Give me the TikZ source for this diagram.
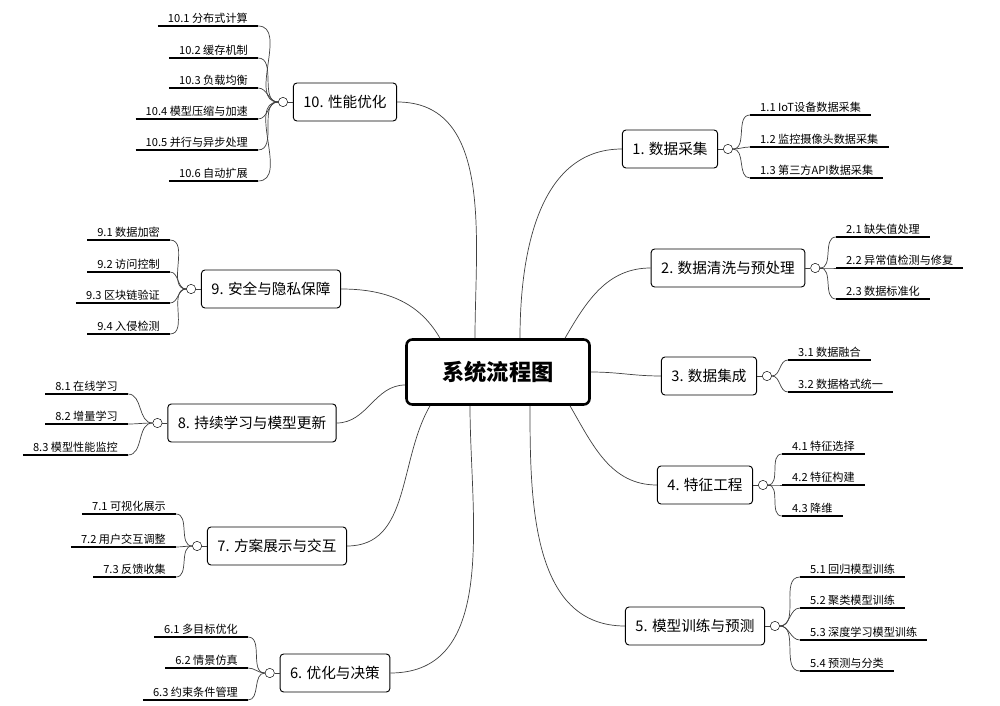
\documentclass[tikz,border=0pt]{standalone}
\usepackage{fontspec}
\setmainfont{Noto Sans CJK SC}
\usetikzlibrary{positioning,calc}

\tikzset{
  topic/.style={draw, thick, rounded corners=3pt, fill=white, minimum height=1.14cm, inner xsep=0.3cm, font=\fontsize{12.5}{14}\selectfont},
  root/.style={draw, line width=2.2pt, rounded corners=5pt, minimum width=5.49cm, minimum height=1.95cm, font=\fontsize{19}{22}\selectfont\bfseries},
  knob/.style={draw, circle, fill=white, minimum size=0.28cm, inner sep=0pt},
  subr/.style={anchor=south west, inner xsep=0.3cm, inner ysep=2pt, font=\fontsize{9.5}{11}\selectfont},
  subl/.style={anchor=south east, inner xsep=0.3cm, inner ysep=2pt, font=\fontsize{9.5}{11}\selectfont},
  uline/.style={line width=1.8pt},
  link/.style={draw=black!75, semithick}
}

\begin{document}
\begin{tikzpicture}[x=0.03cm, y=-0.03cm]
    \useasboundingbox (0,0) rectangle (1000,706);

    \node[root] at (498, 372) (c) {系统流程图};

    % main topics
    \node[topic] at (670, 149) (t1) {1. 数据采集};
    \node[topic] at (728, 268) (t2) {2. 数据清洗与预处理};
    \node[topic] at (709, 376) (t3) {3. 数据集成};
    \node[topic] at (705, 485) (t4) {4. 特征工程};
    \node[topic] at (695, 626) (t5) {5. 模型训练与预测};
    \node[topic] at (335, 673) (t6) {6. 优化与决策};
    \node[topic] at (277, 546) (t7) {7. 方案展示与交互};
    \node[topic] at (252, 423) (t8) {8. 持续学习与模型更新};
    \node[topic] at (271, 289) (t9) {9. 安全与隐私保障};
    \node[topic] at (345, 102) (t10) {10. 性能优化};

    \draw[link] ($(c.north)+(22,0)$) to[out=90, in=180] (t1.west);
    \draw[link] ($(c.north)+(67,0)$) to[out=60, in=180] (t2.west);
    \draw[link] (c.east) to[out=0, in=180] (t3.west);
    \draw[link] ($(c.south)+(72,0)$) to[out=-60, in=180] (t4.west);
    \draw[link] ($(c.south)+(32,0)$) to[out=-90, in=180] (t5.west);
    \draw[link] ($(c.south)+(-28,0)$) to[out=-90, in=0] (t6.east);
    \draw[link] ($(c.south)+(-68,0)$) to[out=-120, in=0] (t7.east);
    \draw[link] ($(c.west)+(0,13)$) to[out=180, in=0] (t8.east);
    \draw[link] ($(c.north)+(-58,0)$) to[out=120, in=0] (t9.east);
    \draw[link] ($(c.north)+(-23,0)$) to[out=90, in=0] (t10.east);

    % knobs
    \node[knob, right=0.15cm of t1] (k1) {};
    \node[knob, right=0.15cm of t2] (k2) {};
    \node[knob, right=0.15cm of t3] (k3) {};
    \node[knob, right=0.15cm of t4] (k4) {};
    \node[knob, right=0.15cm of t5] (k5) {};
    \node[knob, left=0.15cm of t6] (k6) {};
    \node[knob, left=0.15cm of t7] (k7) {};
    \node[knob, left=0.15cm of t8] (k8) {};
    \node[knob, left=0.15cm of t9] (k9) {};
    \node[knob, left=0.15cm of t10] (k10) {};
    \foreach \k in {1,2,3,4,5,6,7,8,9,10} \draw[link] (t\k) -- (k\k);

    % subtopics, right side
    \node[subr] at (750, 115) (s11) {1.1 IoT设备数据采集};
    \node[subr] at (750, 147) (s12) {1.2 监控摄像头数据采集};
    \node[subr] at (750, 178) (s13) {1.3 第三方API数据采集};
    \node[subr] at (836, 237) (s21) {2.1 缺失值处理};
    \node[subr] at (836, 268) (s22) {2.2 异常值检测与修复};
    \node[subr] at (836, 299) (s23) {2.3 数据标准化};
    \node[subr] at (788, 360) (s31) {3.1 数据融合};
    \node[subr] at (788, 392) (s32) {3.2 数据格式统一};
    \node[subr] at (782, 454) (s41) {4.1 特征选择};
    \node[subr] at (782, 485) (s42) {4.2 特征构建};
    \node[subr] at (782, 516) (s43) {4.3 降维};
    \node[subr] at (800, 577) (s51) {5.1 回归模型训练};
    \node[subr] at (800, 608) (s52) {5.2 聚类模型训练};
    \node[subr] at (800, 640) (s53) {5.3 深度学习模型训练};
    \node[subr] at (800, 671) (s54) {5.4 预测与分类};

    % subtopics, left side
    \node[subl] at (248, 637) (s61) {6.1 多目标优化};
    \node[subl] at (248, 668) (s62) {6.2 情景仿真};
    \node[subl] at (248, 700) (s63) {6.3 约束条件管理};
    \node[subl] at (176, 514) (s71) {7.1 可视化展示};
    \node[subl] at (176, 547) (s72) {7.2 用户交互调整};
    \node[subl] at (176, 577) (s73) {7.3 反馈收集};
    \node[subl] at (128, 394) (s81) {8.1 在线学习};
    \node[subl] at (128, 424) (s82) {8.2 增量学习};
    \node[subl] at (128, 455) (s83) {8.3 模型性能监控};
    \node[subl] at (170, 240) (s91) {9.1 数据加密};
    \node[subl] at (170, 272) (s92) {9.2 访问控制};
    \node[subl] at (170, 303) (s93) {9.3 区块链验证};
    \node[subl] at (170, 334) (s94) {9.4 入侵检测};
    \node[subl] at (258, 26) (s101) {10.1 分布式计算};
    \node[subl] at (258, 58) (s102) {10.2 缓存机制};
    \node[subl] at (258, 88) (s103) {10.3 负载均衡};
    \node[subl] at (258, 119) (s104) {10.4 模型压缩与加速};
    \node[subl] at (258, 150) (s105) {10.5 并行与异步处理};
    \node[subl] at (258, 181) (s106) {10.6 自动扩展};

    \foreach \k/\s in {1/s11,1/s12,1/s13,2/s21,2/s22,2/s23,3/s31,3/s32,4/s41,4/s42,4/s43,5/s51,5/s52,5/s53,5/s54} {
        \draw[uline] (\s.south west) -- (\s.south east);
        \draw[link] (k\k.east) to[out=0, in=180] (\s.south west);
    }
    \foreach \k/\s in {6/s61,6/s62,6/s63,7/s71,7/s72,7/s73,8/s81,8/s82,8/s83,9/s91,9/s92,9/s93,9/s94,10/s101,10/s102,10/s103,10/s104,10/s105,10/s106} {
        \draw[uline] (\s.south west) -- (\s.south east);
        \draw[link] (k\k.west) to[out=180, in=0] (\s.south east);
    }
\end{tikzpicture}
\end{document}
